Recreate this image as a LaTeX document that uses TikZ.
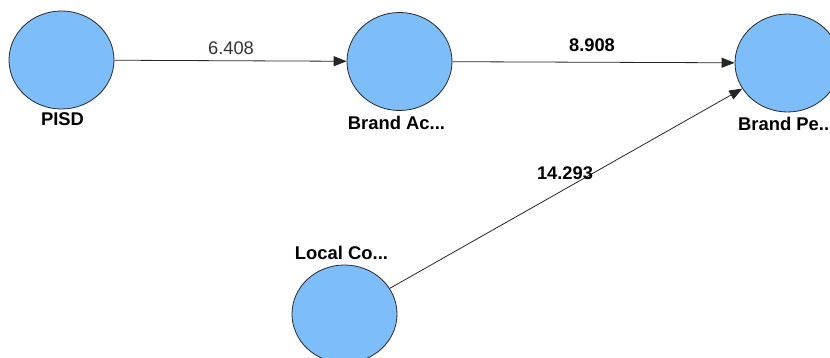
\documentclass[tikz,border=0pt]{standalone}
\usepackage{fontspec}
\setmainfont{Liberation Sans}
\usetikzlibrary{arrows.meta,shapes.geometric}
\definecolor{lvfill}{RGB}{125,190,250}
\definecolor{lvline}{RGB}{40,40,40}
\tikzset{
  latent/.style={ellipse, draw=lvline, line width=0.8pt, fill=lvfill, minimum width=105pt, minimum height=98pt, inner sep=0pt},
  lvlabel/.style={font=\fontsize{18.4}{21}\selectfont\bfseries, text=black, inner sep=0pt},
  pathlab/.style={font=\fontsize{18.3}{21}\selectfont\bfseries, text=black, inner sep=0pt},
  pathlabplain/.style={font=\fontsize{18.3}{21}\selectfont, text=black!80, inner sep=0pt},
  conn/.style={draw=black!85, line width=0.8pt, -{Triangle[length=13pt,width=10pt]}}
}
\begin{document}
\begin{tikzpicture}[x=1pt,y=-1pt]
\clip (0,0) rectangle (830,358);
\fill[white] (0,0) rectangle (830,358);
\node[latent] (pisd) at (61.5,60) {};
\node[latent] (bac) at (399.5,61.5) {};
\node[latent] (bpe) at (787.5,63) {};
\node[latent] (lco) at (344.5,314) {};
\node[lvlabel] (lpisd) at (62.5,119) {PISD};
\node[lvlabel] (lbac) at (396.5,122.5) {Brand Ac...};
\node[lvlabel, anchor=west] (lbpe) at (738,123.5) {Brand Pe...};
\node[lvlabel] (llco) at (341.5,253) {Local Co...};
\draw[conn] (pisd) -- (bac);
\draw[conn] (bac) -- (bpe);
\draw[conn] (lco) -- (bpe);
\node[pathlabplain] (e1) at (231,48.5) {6.408};
\node[pathlab] (e2) at (592,45) {8.908};
\node[pathlab] (e3) at (565,173) {14.293};
\end{tikzpicture}
\end{document}
